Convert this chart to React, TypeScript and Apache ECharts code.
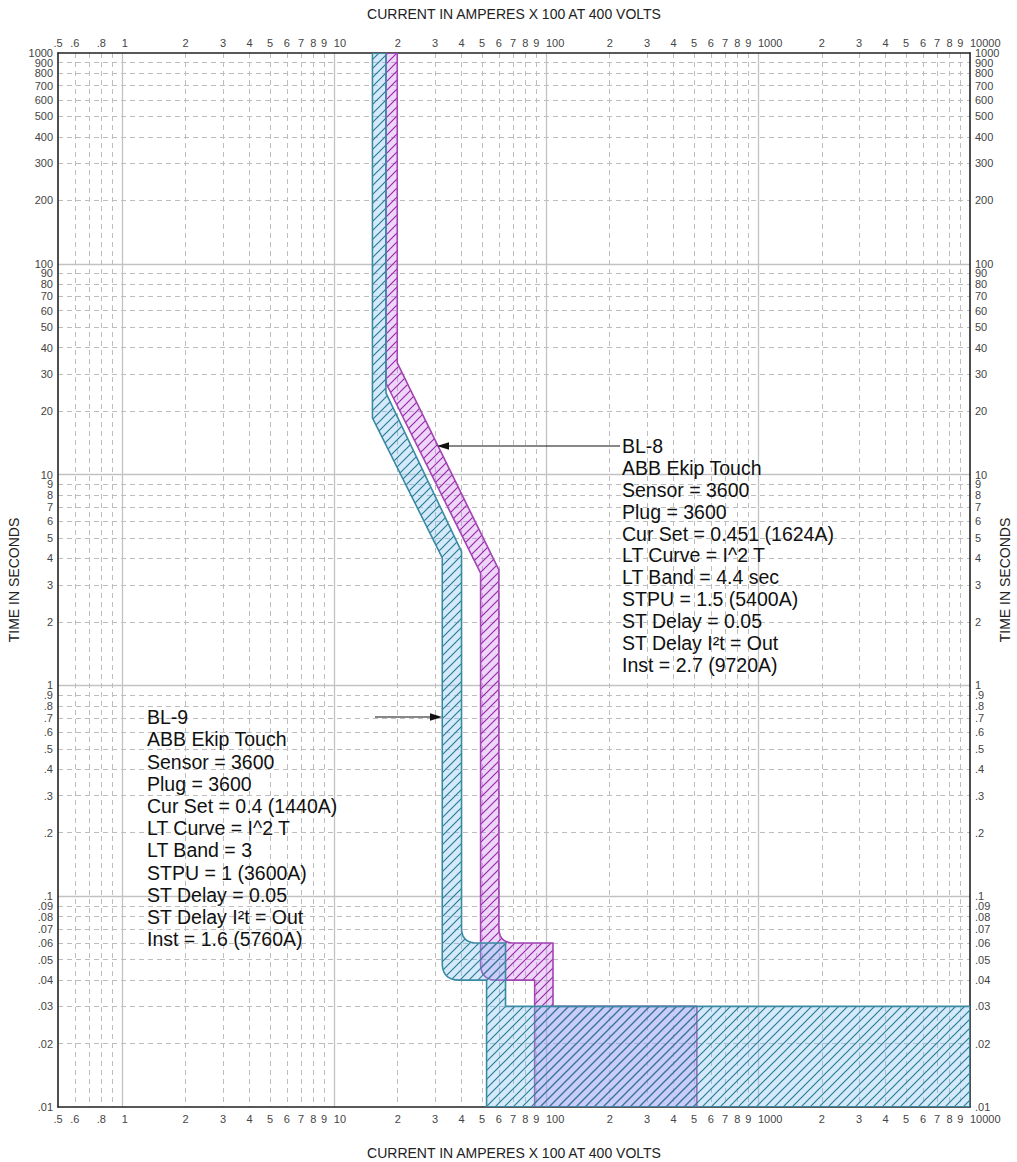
import React, { useEffect, useRef } from "react";
import * as echarts from "echarts";

// ---------- axis ranges & tick values ----------
const X_MIN = 0.5;
const X_MAX = 10000;
const Y_MIN = 0.01;
const Y_MAX = 1000;

// x labels between decades (centred) and at decades (left-aligned)
const xLabelValues = [
  0.5, 0.6, 0.8, 2, 3, 4, 5, 6, 7, 8, 9, 20, 30, 40, 50, 60, 70, 80, 90,
  200, 300, 400, 500, 600, 700, 800, 900, 2000, 3000, 4000, 5000,
  6000, 7000, 8000, 9000,
];
const xDecadeLabels = [1, 10, 100, 1000, 10000];
const xMinorGrid = [
  0.6, 0.7, 0.8, 0.9, 2, 3, 4, 5, 6, 7, 8, 9, 20, 30, 40, 50, 60, 70, 80, 90,
  200, 300, 400, 500, 600, 700, 800, 900, 2000, 3000, 4000, 5000, 6000, 7000,
  8000, 9000,
];
const xMajorGrid = [1, 10, 100, 1000];

// y labels, split into two interleaved sets (so neighbouring labels never collide)
const yLabelsA = [
  0.01, 0.03, 0.05, 0.07, 0.09, 0.2, 0.4, 0.6, 0.8, 1, 3, 5, 7, 9, 20, 40, 60,
  80, 100, 300, 500, 700, 900,
];
const yLabelsB = [
  0.02, 0.04, 0.06, 0.08, 0.1, 0.3, 0.5, 0.7, 0.9, 2, 4, 6, 8, 10, 30, 50, 70,
  90, 200, 400, 600, 800, 1000,
];
const yMinorGrid = [
  0.02, 0.03, 0.04, 0.05, 0.06, 0.07, 0.08, 0.09, 0.2, 0.3, 0.4, 0.5, 0.6, 0.7,
  0.8, 0.9, 2, 3, 4, 5, 6, 7, 8, 9, 20, 30, 40, 50, 60, 70, 80, 90, 200, 300,
  400, 500, 600, 700, 800, 900,
];
const yMajorGrid = [0.1, 1, 10, 100];

// ---------- trip bands: [current (A x 100), time (s)] ----------
const bl8Band = [
  [19.9, 1000],
  [19.9, 33.9],
  [60.0, 3.53],
  [60.0, 0.06],
  [108, 0.06],
  [108, 0.03],
  [515, 0.03],
  [515, 0.01],
  [88.5, 0.01],
  [88.5, 0.04],
  [49.2, 0.04],
  [49.2, 3.41],
  [17.6, 27.2],
  [17.6, 1000],
];

const bl9Band = [
  [17.6, 1000],
  [17.6, 24.4],
  [40.0, 4.31],
  [40.0, 0.06],
  [64.5, 0.06],
  [64.5, 0.03],
  [10000, 0.03],
  [10000, 0.01],
  [52.5, 0.01],
  [52.5, 0.04],
  [32.45, 0.04],
  [32.45, 4.03],
  [15.2, 18.6],
  [15.2, 1000],
];

const bl8Text = [
  "BL-8",
  "ABB Ekip Touch",
  "Sensor = 3600",
  "Plug = 3600",
  "Cur Set = 0.451 (1624A)",
  "LT Curve = I^2 T",
  "LT Band = 4.4 sec",
  "STPU = 1.5 (5400A)",
  "ST Delay = 0.05",
  "ST Delay I²t = Out",
  "Inst = 2.7 (9720A)",
];

const bl9Text = [
  "BL-9",
  "ABB Ekip Touch",
  "Sensor = 3600",
  "Plug = 3600",
  "Cur Set = 0.4 (1440A)",
  "LT Curve = I^2 T",
  "LT Band = 3",
  "STPU = 1 (3600A)",
  "ST Delay = 0.05",
  "ST Delay I²t = Out",
  "Inst = 1.6 (5760A)",
];

// ---------- styling ----------
const FONT = '"Liberation Sans", Arial, Helvetica, sans-serif';
const TICK_FONT = '"Liberation Sans Narrow", "Arial Narrow", "Liberation Sans", Arial, sans-serif';
// rounded corners (vertex index -> radius in px)
const bl8Corners: Record<number, number> = { 3: 15, 10: 16 };
const bl9Corners: Record<number, number> = { 3: 15, 10: 17 };

function makeHatch(fill: string, line: string) {
  const s = 9;
  const c = document.createElement("canvas");
  c.width = s;
  c.height = s;
  const g = c.getContext("2d")!;
  g.fillStyle = fill;
  g.fillRect(0, 0, s, s);
  g.strokeStyle = line;
  g.lineWidth = 1.2;
  g.beginPath();
  g.moveTo(-1, s + 1);
  g.lineTo(s + 1, -1);
  g.moveTo(-1, 1);
  g.lineTo(1, -1);
  g.moveTo(s - 1, s + 1);
  g.lineTo(s + 1, s - 1);
  g.stroke();
  return { image: c, repeat: "repeat", imageWidth: s, imageHeight: s };
}

function roundedPoints(px: number[][], corners: Record<number, number>) {
  const n = px.length;
  const out: number[][] = [];
  for (let i = 0; i < n; i++) {
    const r = corners[i] || 0;
    const p = px[i];
    if (!r) {
      out.push(p);
      continue;
    }
    const prev = px[(i - 1 + n) % n];
    const next = px[(i + 1) % n];
    const toward = (q: number[]) => {
      const dx = q[0] - p[0];
      const dy = q[1] - p[1];
      const L = Math.hypot(dx, dy) || 1;
      const k = Math.min(r, L / 2) / L;
      return [p[0] + dx * k, p[1] + dy * k];
    };
    const a = toward(prev);
    const b = toward(next);
    const steps = 10;
    for (let s = 0; s <= steps; s++) {
      const t = s / steps;
      const u = 1 - t;
      out.push([
        u * u * a[0] + 2 * u * t * p[0] + t * t * b[0],
        u * u * a[1] + 2 * u * t * p[1] + t * t * b[1],
      ]);
    }
  }
  return out;
}

function fmtX(v: number) {
  const r = Math.round(v * 1000) / 1000;
  if (r < 1) return String(r).replace(/^0/, "");
  const p = Math.pow(10, Math.floor(Math.log10(r) + 1e-9));
  if (Math.abs(r / p - 1) < 1e-6) return String(Math.round(r));
  return String(Math.round(r / p));
}

function fmtY(v: number) {
  const r = Math.round(v * 10000) / 10000;
  if (r < 1) return String(r).replace(/^0/, "");
  return String(Math.round(r));
}

export default function App() {
  const ref = useRef<HTMLDivElement>(null);

  useEffect(() => {
    document.body.style.margin = "0";
    const chart = echarts.init(ref.current!, null, { renderer: "svg" });

    const blueHatch = makeHatch("rgba(120,190,240,0.32)", "#2c7d96");
    const magHatch = makeHatch("rgba(200,120,240,0.30)", "#9a2aa8");

    const bandSeries = (
      name: string,
      pts: number[][],
      corners: Record<number, number>,
      fill: any,
      stroke: string
    ) => ({
      type: "custom",
      name,
      coordinateSystem: "cartesian2d",
      xAxisIndex: 0,
      yAxisIndex: 0,
      data: pts,
      encode: { x: 0, y: 1 },
      clip: true,
      silent: true,
      renderItem: (params: any, api: any) => {
        if (params.dataIndex !== 0) return null;
        const px = pts.map((p) => api.coord([p[0], p[1]]));
        return {
          type: "polygon",
          shape: { points: roundedPoints(px, corners) },
          style: { fill, stroke, lineWidth: 1.6, lineJoin: "round" },
        };
      },
    });

    const nameStyle = { fontFamily: FONT, fontSize: 14, color: "#222" };
    const borderLine = { show: true, onZero: false, lineStyle: { color: "#222", width: 1.6 } };
    const noLine = { show: false, onZero: false };
    const xAxisBase = {
      type: "log",
      logBase: 10,
      min: X_MIN,
      max: X_MAX,
      nameLocation: "middle",
      nameMoveOverlap: false,
      nameTextStyle: nameStyle,
    };
    const yAxisBase = {
      type: "log",
      logBase: 10,
      min: Y_MIN,
      max: Y_MAX,
      nameLocation: "middle",
      nameMoveOverlap: false,
      nameTextStyle: nameStyle,
    };
    const labelStyle = {
      fontFamily: TICK_FONT,
      fontSize: 11,
      lineHeight: 10,
      color: "#444",
      showMinLabel: true,
      showMaxLabel: true,
      hideOverlap: false,
    };
    const dashed = { show: true, lineStyle: { color: "#bdbdbd", width: 1, type: [5, 4] } };
    const solid = { show: true, lineStyle: { color: "#c2c2c2", width: 1.3, type: "solid" } };
    const noSplit = { show: false };

    const arrow = (tipX: number, tailX: number, y: number) => {
      const dir = tailX > tipX ? 1 : -1;
      return [
        {
          type: "line",
          shape: { x1: tipX + dir * 10, y1: y, x2: tailX, y2: y },
          style: { stroke: "#111", lineWidth: 1 },
          z: 100,
        },
        {
          type: "polygon",
          shape: {
            points: [
              [tipX, y],
              [tipX + dir * 12, y - 3.8],
              [tipX + dir * 12, y + 3.8],
            ],
          },
          style: { fill: "#111" },
          z: 100,
        },
      ];
    };

    const yLabelAxis = (position: string, values: number[]) => ({
      ...yAxisBase,
      position,
      axisLine: noLine,
      axisTick: { show: false, customValues: yMajorGrid },
      axisLabel: { ...labelStyle, margin: 5, customValues: values, formatter: fmtY },
      splitLine: noSplit,
    });

    chart.setOption({
      animation: false,
      backgroundColor: "#ffffff",
      grid: {
        left: 58,
        right: 47,
        top: 53,
        bottom: 55,
        outerBoundsMode: "none",
        containLabel: false,
      },
      xAxis: [
        {
          ...xAxisBase,
          position: "bottom",
          name: "CURRENT IN AMPERES X 100 AT 400 VOLTS",
          nameGap: 39,
          axisLine: borderLine,
          axisTick: { show: false, customValues: [...xMinorGrid, ...xMajorGrid] },
          axisLabel: { ...labelStyle, margin: 7, customValues: xLabelValues, formatter: fmtX },
          splitLine: dashed,
        },
        {
          ...xAxisBase,
          position: "top",
          name: "CURRENT IN AMPERES X 100 AT 400 VOLTS",
          nameGap: 32,
          axisLine: borderLine,
          axisTick: { show: false, customValues: xMajorGrid },
          axisLabel: { ...labelStyle, margin: 5, customValues: xLabelValues, formatter: fmtX },
          splitLine: solid,
        },
        {
          ...xAxisBase,
          position: "bottom",
          axisLine: noLine,
          axisTick: { show: false, customValues: xMajorGrid },
          axisLabel: {
            ...labelStyle,
            margin: 7,
            align: "left",
            customValues: xDecadeLabels,
            formatter: fmtX,
          },
          splitLine: noSplit,
        },
        {
          ...xAxisBase,
          position: "top",
          axisLine: noLine,
          axisTick: { show: false, customValues: xMajorGrid },
          axisLabel: {
            ...labelStyle,
            margin: 5,
            align: "left",
            customValues: xDecadeLabels,
            formatter: fmtX,
          },
          splitLine: noSplit,
        },
      ],
      yAxis: [
        {
          ...yAxisBase,
          position: "left",
          name: "TIME IN SECONDS",
          nameGap: 37,
          axisLine: borderLine,
          axisTick: { show: false, customValues: [...yMinorGrid, ...yMajorGrid] },
          axisLabel: { ...labelStyle, margin: 5, customValues: yLabelsA, formatter: fmtY },
          splitLine: dashed,
        },
        {
          ...yAxisBase,
          position: "right",
          name: "TIME IN SECONDS",
          nameGap: 28,
          axisLine: borderLine,
          axisTick: { show: false, customValues: yMajorGrid },
          axisLabel: { ...labelStyle, margin: 5, customValues: yLabelsA, formatter: fmtY },
          splitLine: solid,
        },
        yLabelAxis("left", yLabelsB),
        yLabelAxis("right", yLabelsB),
      ],
      series: [
        bandSeries("BL-8", bl8Band, bl8Corners, magHatch, "#a444b4"),
        bandSeries("BL-9", bl9Band, bl9Corners, blueHatch, "#3b8aa4"),
      ],
      graphic: [
        {
          type: "text",
          x: 622,
          y: 435,
          z: 100,
          style: {
            text: bl8Text.join("\n"),
            font: `19.5px ${FONT}`,
            fill: "#111",
            lineHeight: 21.9,
            verticalAlign: "top",
          },
        },
        {
          type: "text",
          x: 147,
          y: 706,
          z: 100,
          style: {
            text: bl9Text.join("\n"),
            font: `19.5px ${FONT}`,
            fill: "#111",
            lineHeight: 22.2,
            verticalAlign: "top",
          },
        },
        ...arrow(437, 620, 446),
        ...arrow(442, 375, 717),
      ],
    });

    return () => chart.dispose();
  }, []);

  return (
    <div
      ref={ref}
      style={{ position: "fixed", left: 0, top: 0, width: 1017, height: 1162, background: "#fff" }}
    />
  );
}
